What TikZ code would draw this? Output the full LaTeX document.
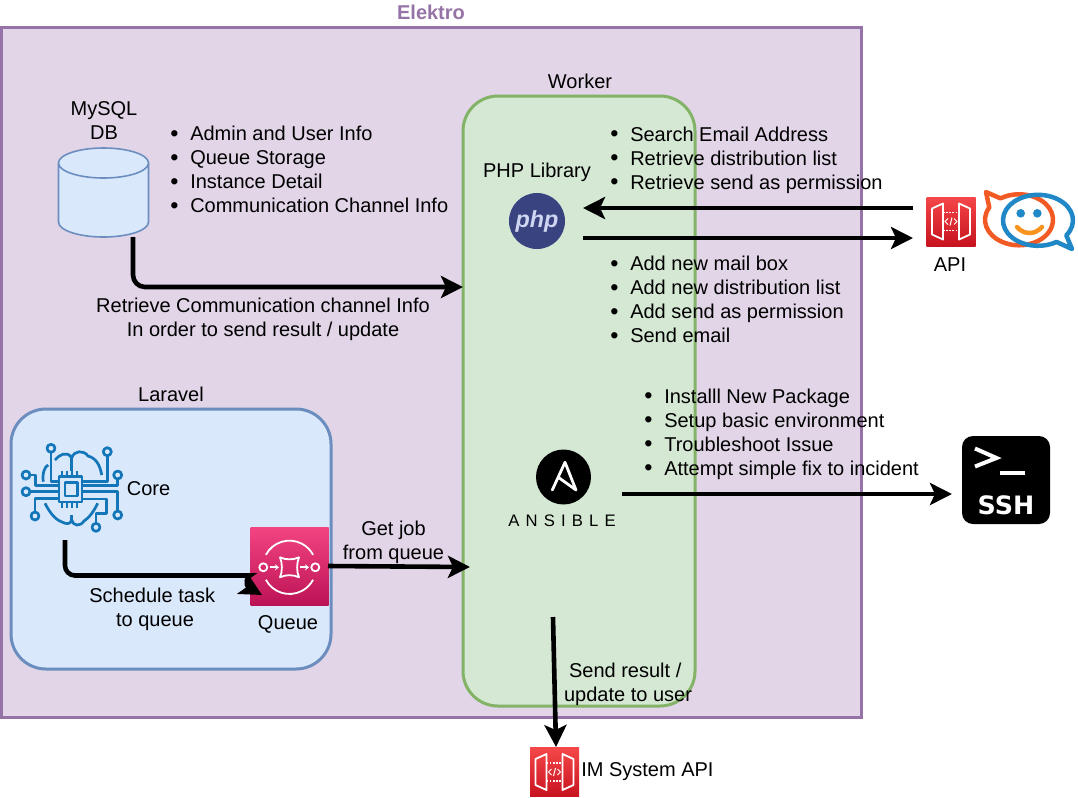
\documentclass[tikz,border=0pt]{standalone}
\usepackage{fontspec}
\setmainfont{Liberation Sans}
\newfontfamily\ansiblefont[LetterSpace=37]{Liberation Sans}
\newfontfamily\sshfont{DejaVu Sans}
\usetikzlibrary{arrows.meta}

\definecolor{purpleline}{HTML}{9673A6}
\definecolor{purplefill}{HTML}{E1D5E7}
\definecolor{greenline}{HTML}{82B366}
\definecolor{greenfill}{HTML}{D5E8D4}
\definecolor{blueline}{HTML}{6C8EBF}
\definecolor{bluefill}{HTML}{DAE8FC}
\definecolor{chatorange}{HTML}{F15A24}
\definecolor{chatblue}{HTML}{2088C6}
\definecolor{chatsmile}{HTML}{F7931E}
\definecolor{coreblue}{HTML}{1276B8}
\definecolor{phpblue}{HTML}{38437F}
\definecolor{phptext}{HTML}{CFD6F2}
\definecolor{apitop}{HTML}{F54749}
\definecolor{apibottom}{HTML}{C7131F}
\definecolor{queuetop}{HTML}{F34482}
\definecolor{queuebottom}{HTML}{BC1356}

\def\px{.75pt}
\newcommand{\itm}{\makebox[15pt][l]{\raisebox{-.4pt}{\fontsize{17.5}{18}\selectfont\textbullet}}}

\begin{document}
\begin{tikzpicture}[x=.75pt,y=-.75pt]

\tikzset{
font={\fontsize{15}{18}\selectfont},
txt/.style={align=center,inner sep=0pt},
bullets/.style={align=left,anchor=west,inner sep=0pt},
box/.style={draw,line width=3*\px,outer sep=0pt},
flow/.style={line width=4.6*\px,-{Stealth[length=22*\px,width=22*\px,inset=5*\px]}},
awsbox/.style={inner sep=0pt,outer sep=0pt,minimum size=#1*\px},
apibox/.style={awsbox=49,top color=apitop,bottom color=apibottom},
queuebox/.style={awsbox=78,top color=queuetop,bottom color=queuebottom},
glyph/.style={draw=white,line width=1.8*\px,line join=round},
trace/.style={draw=coreblue,line width=2.7*\px,line join=round},
apiglyph/.pic={
  \draw[glyph] (-19,-13) -- (-8,-18) -- (-8,18) -- (-19,13) -- cycle;
  \draw[glyph] (19,-13) -- (8,-18) -- (8,18) -- (19,13) -- cycle;
  \draw[glyph,densely dotted] (-8,-9) -- (8,-9) (-8,9) -- (8,9);
  \draw[glyph,line width=1*\px] (-3,-3) -- (-6,0) -- (-3,3) (3,-3) -- (6,0) -- (3,3) (1,-4) -- (-1,4);
}
}

\useasboundingbox (0,0) rectangle (1078,797);

% containers
\node[box,draw=purpleline,fill=purplefill,minimum width=860*\px,minimum height=690*\px] (elektro) at (431.5,372.5) {};
\node[box,draw=greenline,fill=greenfill,rounded corners=35*\px,minimum width=232*\px,minimum height=610*\px] (worker) at (579,401) {};
\node[box,draw=blueline,fill=bluefill,rounded corners=35*\px,minimum width=320*\px,minimum height=260*\px] (laravel) at (171,539) {};

\node[txt,text=purpleline,font={\fontsize{15}{18}\selectfont\bfseries}] (elektrotitle) at (431,12) {Elektro};
\node[txt] (workertitle) at (580,81) {Worker};
\node[txt] (laraveltitle) at (171,394) {Laravel};

% database
\node[inner sep=0pt,outer sep=0pt,minimum width=90*\px,minimum height=89*\px] (db) at (103.5,192.5) {};
\draw[draw=blueline,fill=bluefill,line width=1.6*\px] (58.5,163) -- (58.5,222) arc[start angle=180,end angle=360,x radius=45*\px,y radius=15*\px] -- (148.5,163) arc[start angle=0,end angle=180,x radius=45*\px,y radius=15*\px] arc[start angle=180,end angle=360,x radius=45*\px,y radius=15*\px];
\node[txt] (dbtitle) at (104,121) {MySQL\\DB};

% lists
\node[bullets] (dblist) at (170,170) {\itm Admin and User Info\\\itm Queue Storage\\\itm Instance Detail\\\itm Communication Channel Info};
\node[bullets] (readlist) at (610,160) {\itm Search Email Address\\\itm Retrieve distribution list\\\itm Retrieve send as permission};
\node[bullets] (writelist) at (610,300) {\itm Add new mail box\\\itm Add new distribution list\\\itm Add send as permission\\\itm Send email};
\node[bullets] (sshlist) at (644,434) {\itm Installl New Package\\\itm Setup basic environment\\\itm Troubleshoot Issue\\\itm Attempt simple fix to incident};

% php
\node[txt] (phptitle) at (537,172) {PHP Library};
\node[circle,fill=phpblue,minimum size=56*\px,inner sep=0pt,outer sep=0pt,text=phptext,font={\fontsize{17.5}{18}\selectfont\bfseries\itshape}] (php) at (537,221) {php};

% api on the right
\node[apibox] (api) at (951,221.5) {};
\pic at (api) {apiglyph};
\node[txt] (apititle) at (950,265) {API};

% chat logo
\draw[chatorange,line width=4.5*\px,line join=round] (986,192) -- (989.3,207.4) arc[start angle=151,end angle=483,x radius=34*\px,y radius=25.5*\px] -- cycle;
\draw[chatblue,line width=4.5*\px,line join=round] (1072,249) -- (1066.3,235.3) arc[start angle=-36,end angle=302,x radius=35*\px,y radius=25.5*\px] -- cycle;
\fill[chatblue] (1020.7,213.3) circle[radius=4.3*\px] (1037.3,213.3) circle[radius=4.3*\px];
\draw[chatsmile,line width=4.5*\px,line cap=round] (1017,227) .. controls (1024,235) and (1035,235) .. (1042,227);

% ansible
\node[circle,fill=black,minimum size=55*\px,inner sep=0pt,outer sep=0pt] (ansible) at (563.5,477) {};
\draw[white,line width=2.8*\px,line join=round,line cap=round] (552.3,490) -- (565,462.3) -- (576,490) -- (558.3,477.3);
\node[txt,font={\fontsize{12.5}{14}\ansiblefont\selectfont}] (ansibletext) at (562,521) {ANSIBLE};

% ssh
\node[fill=black,rounded corners=11*\px,minimum size=88*\px,inner sep=0pt,outer sep=0pt] (ssh) at (1006,480) {};
\draw[white,line width=4*\px,line join=miter] (975,448.5) -- (996.5,458) -- (975,466.5);
\draw[white,line width=3.5*\px] (1000,473) -- (1025,473);
\node[txt,text=white,font={\fontsize{19}{20}\sshfont\bfseries\selectfont}] (sshtext) at (1006,505.5) {SSH};

% core
\node[inner sep=0pt,outer sep=0pt,minimum width=102*\px,minimum height=88*\px] (core) at (71.5,488) {};
\draw[trace] (59,476.3) rectangle (82,502);
\draw[trace] (65,482.7) rectangle (77.5,496);
\foreach \x in {61.7,66.7,71.7,76.7}{
  \draw[trace,line width=1.6*\px] (\x,470.7) -- (\x,476) (\x,502) -- (\x,507.7);
}
\foreach \x/\y in {51/448.3,107.3/451.7,26/475,117.7/475,26/491.7,35/516,117.7/515,96/527.3}{
  \draw[trace] (\x,\y) circle[radius=4*\px];
}
\draw[trace] (51,452.3) -- (51,481.7) -- (58,481.7);
\draw[trace] (107.3,455.7) -- (107.3,481.7) -- (82,481.7);
\draw[trace] (117.7,479) -- (117.7,485.7) -- (82,485.7);
\draw[trace] (117.7,511) -- (117.7,491.7) -- (82,491.7);
\draw[trace] (96,523.3) -- (96,513.3) -- (106.7,513.3) -- (106.7,499) -- (82,499);
\draw[trace] (30,475) -- (35.7,475) -- (35.7,485.7) -- (58,485.7);
\draw[trace] (30,491.7) -- (58,491.7);
\draw[trace] (35,512) -- (35,498.3) -- (58,498.3);
\draw[trace] (55,460) .. controls (59,455) and (67,450) .. (71.7,458) .. controls (74,450) and (84,450) .. (88,456) .. controls (96,458) and (100,465) .. (101.7,475);
\draw[trace] (43.3,481.7) .. controls (42,473) and (45,466) .. (48.3,465);
\draw[trace] (45,503.3) .. controls (49,511) and (54,519) .. (62,522) .. controls (66,524) and (70,525) .. (71.7,520) .. controls (73,526) and (80,527) .. (84,521) .. controls (89,518) and (94,511) .. (97.7,503.3);
\draw[trace] (71.7,456) -- (71.7,470.7) (71.7,515) -- (71.7,521);
\node[txt] (coretitle) at (148.5,489) {Core};

% queue
\node[queuebox] (queue) at (289.5,566) {};
\draw[glyph] (265.9,554.8) arc[start angle=152,end angle=28,radius=26.7*\px];
\draw[glyph] (265.9,579.8) arc[start angle=208,end angle=332,radius=26.7*\px];
\draw[glyph] (263.3,567.3) circle[radius=4*\px] (315.3,567.3) circle[radius=4*\px];
\draw[glyph,-{Stealth[length=4*\px,width=6*\px]}] (270,567.3) -- (279,567.3);
\draw[glyph,-{Stealth[length=4*\px,width=6*\px]}] (300,567.3) -- (309,567.3);
\draw[glyph] (280,557.3) .. controls (285,560) and (294,560) .. (299,557.3) .. controls (296.5,563) and (296.5,572) .. (299,577.3) .. controls (294,574.5) and (285,574.5) .. (280,577.3) .. controls (282.5,572) and (282.5,563) .. (280,557.3) -- cycle;
\node[txt] (queuetitle) at (288,624) {Queue};

% im api
\node[apibox] (imapi) at (554.5,772) {};
\pic at (imapi) {apiglyph};
\node[txt,anchor=west] (imtitle) at (581,772) {IM System API};

% connector ends
\coordinate (dbout) at (133,237);
\coordinate (workerin) at (463,287);
\coordinate (coreout) at (65,540);
\coordinate (queuein) at (262,595);
\coordinate (queueout) at (328,566);
\coordinate (ansiblein) at (470,567);
\coordinate (phpin) at (583,208);
\coordinate (phpout) at (583,238);
\coordinate (apiin) at (913,238);
\coordinate (apiout) at (913,208);
\coordinate (ansibleout) at (622,494);
\coordinate (sshin) at (952,494);
\coordinate (workerout) at (553,617);
\coordinate (imin) at (556,747);

%edges
\draw[flow,rounded corners=12*\px] (dbout) |- (workerin);
\draw[flow,rounded corners=10*\px] (coreout) |- (240,575.5) .. controls (246,575.5) and (246,586) .. (queuein);
\path[flow]
(apiout)     edge (phpin)
(phpout)     edge (apiin)
(ansibleout) edge (sshin)
(queueout)   edge (ansiblein)
(workerout)  edge (imin)
;

% edge labels
\node[txt] (dblabel) at (263,319) {Retrieve Communication channel Info\\In order to send result / update};
\node[txt] (schedulelabel) at (155,609) {Schedule task\hspace*{4.17pt}\\to queue};
\node[txt] (joblabel) at (393.5,542) {Get job\\from queue};
\node[txt] (resultlabel) at (628,684) {Send result /\hspace*{4.17pt}\\update to user};

\end{tikzpicture}
\end{document}
